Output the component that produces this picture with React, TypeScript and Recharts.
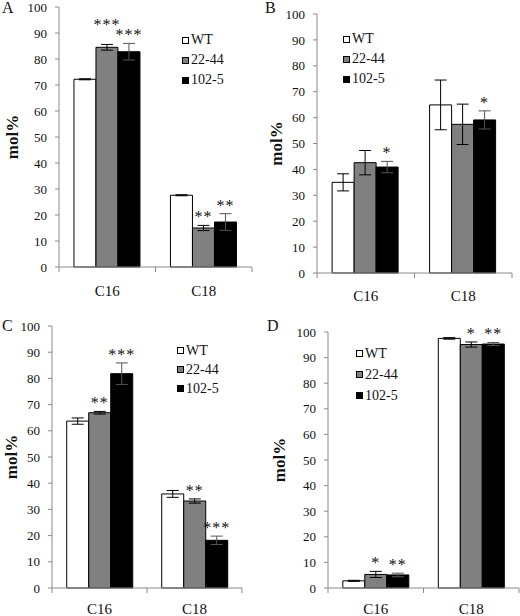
import React from "react";
import { BarChart, Bar, XAxis, YAxis, ErrorBar, LabelList, Legend } from "recharts";

const categories = ["C16", "C18"];
const seriesNames = ["WT", "22-44", "102-5"];
const seriesFills = ["#ffffff", "#808080", "#000000"];
const yTicks = [0, 10, 20, 30, 40, 50, 60, 70, 80, 90, 100];

// A
const aWT = [72.2, 27.6];
const aWTErr = [0.2, 0.2];
const a2244 = [84.5, 15.0];
const a2244Err = [1.1, 1.0];
const a1025 = [82.8, 17.3];
const a1025Err = [3.2, 3.2];
const a2244Stars = ["***", "**"];
const a1025Stars = ["***", "**"];

// B
const bWT = [35.0, 64.9];
const bWTErr = [3.3, 9.6];
const b2244 = [42.6, 57.4];
const b2244Err = [4.7, 7.8];
const b1025 = [40.9, 59.1];
const b1025Err = [2.2, 3.5];
const b2244Stars = ["", ""];
const b1025Stars = ["*", "*"];

// C
const cWT = [63.7, 35.9];
const cWTErr = [1.2, 1.3];
const c2244 = [66.9, 33.2];
const c2244Err = [0.5, 0.8];
const c1025 = [81.8, 18.2];
const c1025Err = [4.1, 1.6];
const c2244Stars = ["**", "**"];
const c1025Stars = ["***", "***"];

// D
const dWT = [2.8, 97.5];
const dWTErr = [0.2, 0.3];
const d2244 = [5.3, 95.1];
const d2244Err = [1.2, 1.0];
const d1025 = [5.1, 95.3];
const d1025Err = [0.7, 0.6];
const d2244Stars = ["*", "*"];
const d1025Stars = ["**", "**"];

const serif = '"Liberation Serif", Tinos, "Times New Roman", "DejaVu Serif", serif';
const axisGray = "#8a8a8a";

function buildRows(wt, wtErr, m1, m1Err, m2, m2Err, s1, s2) {
  return categories.map((cat, i) => ({
    cat,
    wt: wt[i],
    wtErr: wtErr[i],
    m1: m1[i],
    m1Err: m1Err[i],
    m2: m2[i],
    m2Err: m2Err[i],
    s1: s1[i],
    s2: s2[i],
  }));
}

// layout per panel; lift = extra px raise of a star above its usual place
const panels = [
  {
    letter: "A", x: 0, y: 0, left: 59, top: 7, right: 8, bottom: 41, labelX: 12, tickDy: 29,
    legendX: 182, legendY: 30, legendRow: 20, letterX: 2, letterY: 0, lift1: [11, 0], lift2: [0, 0],
    rows: buildRows(aWT, aWTErr, a2244, a2244Err, a1025, a1025Err, a2244Stars, a1025Stars),
  },
  {
    letter: "B", x: 260, y: 0, left: 57, top: 14, right: 8, bottom: 35, labelX: 16, tickDy: 28,
    legendX: 83, legendY: 29, legendRow: 20, letterX: 5, letterY: 0, lift1: [0, 0], lift2: [0, 0],
    rows: buildRows(bWT, bWTErr, b2244, b2244Err, b1025, b1025Err, b2244Stars, b1025Stars),
  },
  {
    letter: "C", x: 0, y: 308, left: 52, top: 18, right: 18, bottom: 28, labelX: 11, tickDy: 26,
    legendX: 177, legendY: 33, legendRow: 19, letterX: 2, letterY: 10, lift1: [0, 0], lift2: [0, 0],
    rows: buildRows(cWT, cWTErr, c2244, c2244Err, c1025, c1025Err, c2244Stars, c1025Stars),
  },
  {
    letter: "D", x: 260, y: 308, left: 68, top: 24, right: 1, bottom: 28, labelX: 19, tickDy: 26,
    legendX: 96, legendY: 35, legendRow: 21, letterX: 7, letterY: 10, lift1: [0, 0], lift2: [0, 0],
    rows: buildRows(dWT, dWTErr, d2244, d2244Err, d1025, d1025Err, d2244Stars, d1025Stars),
  },
];

const W = 260;
const H = 308;

const starLabel = (rows, valKey, errKey, lift) => (p: any) => {
  const vb = p.viewBox || p;
  const row = rows[p.index];
  if (!p.value || !row) return null;
  const v = row[valKey];
  const h = Math.abs(vb.height);
  const y0 = Math.min(vb.y, vb.y + vb.height);
  const k = v ? h / v : 0;
  const errTop = y0 - row[errKey] * k;
  return (
    <text
      x={vb.x + vb.width / 2}
      y={errTop - 3 - (lift[p.index] || 0)}
      textAnchor="middle"
      fontSize={16}
      fontFamily={serif}
      letterSpacing={1}
      fill="#111"
    >
      {p.value}
    </text>
  );
};

function XTick(p: any) {
  const half = p.half;
  const last = p.index === p.visibleTicksCount - 1;
  return (
    <g>
      <line x1={p.x - half} x2={p.x - half} y1={p.y} y2={p.y + 5} stroke={axisGray} />
      {last && <line x1={p.x + half} x2={p.x + half} y1={p.y} y2={p.y + 5} stroke={axisGray} />}
      <text x={p.x} y={p.y + p.dy0} textAnchor="middle" fontSize={15} fontFamily={serif} fill="#111">
        {p.payload.value}
      </text>
    </g>
  );
}

const LegendBox = (row: number) => (props: any) => (
  <div style={{ fontFamily: serif, fontSize: 14, color: "#111", lineHeight: 1 }}>
    {seriesNames.map((name, i) => (
      <div key={name} style={{ display: "flex", alignItems: "center", height: row }}>
        <span
          style={{
            display: "inline-block",
            width: 5,
            height: 5,
            border: "1px solid #000",
            background: seriesFills[i],
            marginRight: 2,
          }}
        />
        <span>{name}</span>
      </div>
    ))}
  </div>
);

function Panel({ cfg }: any) {
  const half = (W - cfg.left - cfg.right) / categories.length / 2;
  return (
    <div style={{ position: "absolute", left: cfg.x, top: cfg.y, width: W, height: H }}>
      <BarChart
        width={W}
        height={H}
        data={cfg.rows}
        margin={{ top: cfg.top, right: cfg.right, bottom: 0, left: 0 }}
        barCategoryGap="15.5%"
        barGap={0}
      >
        <XAxis
          dataKey="cat"
          height={cfg.bottom}
          interval={0}
          axisLine={{ stroke: axisGray }}
          tickLine={false}
          tickSize={0}
          tickMargin={0}
          tick={(p: any) => <XTick {...p} half={half} dy0={cfg.tickDy} />}
        />
        <YAxis
          width={cfg.left}
          domain={[0, 100]}
          ticks={yTicks}
          interval={0}
          axisLine={{ stroke: axisGray }}
          tickLine={{ stroke: axisGray }}
          tickSize={4}
          tickMargin={8}
          tick={{ fontSize: 13, fontFamily: serif, fill: "#111" }}
          label={{
            content: (p: any) => {
              const vb = p.viewBox || {};
              const cy = (vb.y ?? cfg.top) + (vb.height ?? 0) / 2;
              return (
                <text
                  x={cfg.labelX}
                  y={cy}
                  transform={`rotate(-90, ${cfg.labelX}, ${cy})`}
                  textAnchor="middle"
                  dominantBaseline="central"
                  fontSize={17}
                  fontWeight="bold"
                  fontFamily={serif}
                  fill="#111"
                >
                  mol%
                </text>
              );
            },
          }}
        />
        <Legend
          layout="vertical"
          align="center"
          verticalAlign="middle"
          wrapperStyle={{ left: cfg.legendX, top: cfg.legendY, width: 70 }}
          content={LegendBox(cfg.legendRow)}
        />
        <Bar dataKey="wt" name={seriesNames[0]} fill={seriesFills[0]} stroke="#000" strokeWidth={1} isAnimationActive={false}>
          <ErrorBar dataKey="wtErr" width={6} stroke="#000" strokeWidth={1} direction="y" isAnimationActive={false} />
        </Bar>
        <Bar dataKey="m1" name={seriesNames[1]} fill={seriesFills[1]} stroke="#000" strokeWidth={1} isAnimationActive={false}>
          <ErrorBar dataKey="m1Err" width={6} stroke="#000" strokeWidth={1} direction="y" isAnimationActive={false} />
          <LabelList dataKey="s1" content={starLabel(cfg.rows, "m1", "m1Err", cfg.lift1)} />
        </Bar>
        <Bar dataKey="m2" name={seriesNames[2]} fill={seriesFills[2]} stroke="#000" strokeWidth={1} isAnimationActive={false}>
          <ErrorBar dataKey="m2Err" width={6} stroke="#555" strokeWidth={1} direction="y" isAnimationActive={false} />
          <LabelList dataKey="s2" content={starLabel(cfg.rows, "m2", "m2Err", cfg.lift2)} />
        </Bar>
      </BarChart>
      <div
        style={{
          position: "absolute",
          left: cfg.letterX,
          top: cfg.letterY,
          fontFamily: serif,
          fontSize: 16,
          lineHeight: "16px",
          color: "#111",
        }}
      >
        {cfg.letter}
      </div>
    </div>
  );
}

export default function App() {
  return (
    <div
      style={{
        position: "absolute",
        left: 0,
        top: 0,
        width: 520,
        height: 616,
        background: "#fff",
        overflow: "hidden",
      }}
    >
      {panels.map((cfg) => (
        <Panel key={cfg.letter} cfg={cfg} />
      ))}
    </div>
  );
}
